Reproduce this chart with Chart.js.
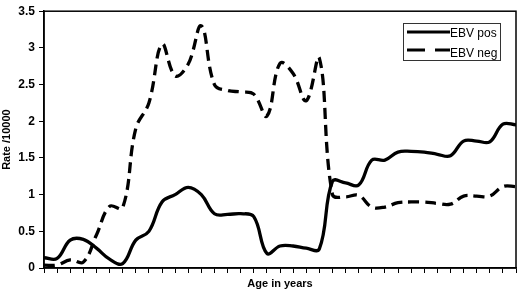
<!DOCTYPE html>
<html>
<head>
<meta charset="utf-8">
<script src="https://cdn.jsdelivr.net/npm/chart.js@4/dist/chart.umd.min.js"></script>
<style>
  html, body { margin: 0; padding: 0; background: #fff; }
  #wrap { width: 520px; height: 297px; }
</style>
</head>
<body>
<div id="wrap"><canvas id="chartEbv"></canvas></div>
<script>
// age points (one per tick mark on the x axis)
const ages = [0,1,2,3,4,5,6,7,8,9,10,11,12,13,14,15,16,17,18,19,20,21,22,23,24,25,26,27,28,29,30,31,32,33,34,35,36];

// rate per 10000
const ebvPos = [0.14,0.13,0.38,0.39,0.27,0.12,0.06,0.38,0.50,0.90,1.00,1.10,1.00,0.74,0.73,0.74,0.70,0.20,0.30,0.30,0.27,0.26,1.18,1.16,1.13,1.47,1.47,1.58,1.59,1.58,1.55,1.53,1.73,1.73,1.72,1.96,1.95];
const ebvNeg = [0.04,0.04,0.11,0.08,0.45,0.84,0.82,1.90,2.25,3.05,2.62,2.78,3.30,2.50,2.42,2.40,2.37,2.07,2.79,2.65,2.28,2.86,1.00,0.97,0.99,0.83,0.83,0.89,0.90,0.90,0.88,0.87,0.98,0.98,0.98,1.11,1.11];

const yTicks = [0, 0.5, 1, 1.5, 2, 2.5, 3, 3.5];
const yTickLabels = ['0', '0.5', '1', '1.5', '2', '2.5', '3', '3.5'];
const seriesNames = ['EBV pos', 'EBV neg'];

function toPoints(vals) {
    return vals.map(function(v, i) { return { x: ages[i], y: v }; });
}

// frame round the plot area + boxed legend
const framePlugin = {
    id: 'frame',
    afterDraw: function(chart) {
        const c = chart.ctx;
        const a = chart.chartArea;
        c.save();
        c.strokeStyle = '#000';
        c.lineWidth = 1.5;
        c.strokeRect(a.left, a.top, a.right - a.left, a.bottom - a.top);

        // legend box
        const bx = 403, by = 23, bw = 97, bh = 37;
        c.fillStyle = '#fff';
        c.fillRect(bx, by, bw, bh);
        c.lineWidth = 1;
        c.strokeStyle = '#333';
        c.strokeRect(bx + 0.5, by + 0.5, bw, bh);

        c.strokeStyle = '#000';
        c.lineWidth = 3;
        c.beginPath();
        c.moveTo(407, 32);
        c.lineTo(450, 32);
        c.stroke();

        c.setLineDash([18, 10]);
        c.beginPath();
        c.moveTo(407, 50);
        c.lineTo(450, 50);
        c.stroke();
        c.setLineDash([]);

        c.fillStyle = '#000';
        c.font = '12px "Liberation Sans", Arial, sans-serif';
        c.textBaseline = 'middle';
        c.textAlign = 'left';
        c.fillText(seriesNames[0], 450, 34);
        c.fillText(seriesNames[1], 450, 54);
        c.restore();
    }
};

new Chart(document.getElementById('chartEbv').getContext('2d'), {
    type: 'line',
    data: {
        datasets: [{
            label: seriesNames[0],
            data: toPoints(ebvPos),
            borderColor: '#000',
            borderWidth: 3.3,
            pointRadius: 0,
            tension: 0.4,
            fill: false
        }, {
            label: seriesNames[1],
            data: toPoints(ebvNeg),
            borderColor: '#000',
            borderWidth: 3.3,
            borderDash: [11, 6],
            pointRadius: 0,
            tension: 0.4,
            fill: false
        }]
    },
    options: {
        responsive: true,
        maintainAspectRatio: false,
        animation: false,
        layout: {
            padding: { left: 0, top: 7, right: 4, bottom: 0 }
        },
        plugins: {
            legend: { display: false },
            tooltip: { enabled: false }
        },
        scales: {
            x: {
                type: 'linear',
                min: 0,
                max: 36,
                afterFit: function(scale) { scale.height = 29; },
                afterBuildTicks: function(scale) {
                    scale.ticks = ages.map(function(v) { return { value: v }; });
                },
                ticks: {
                    display: false,
                    autoSkip: false
                },
                grid: {
                    display: true,
                    drawOnChartArea: false,
                    drawTicks: true,
                    tickLength: 5,
                    color: '#000'
                },
                border: { color: '#000', width: 1.5 },
                title: {
                    display: true,
                    text: 'Age in years',
                    color: '#000',
                    font: { family: '"Liberation Sans", Arial, sans-serif', size: 11, weight: 'bold' },
                    padding: { top: 0, bottom: 6 }
                }
            },
            y: {
                min: 0,
                max: 3.5,
                afterFit: function(scale) { scale.width = 44; },
                afterBuildTicks: function(scale) {
                    scale.ticks = yTicks.map(function(v) { return { value: v }; });
                },
                ticks: {
                    color: '#000',
                    padding: 4,
                    font: { family: '"Liberation Sans", Arial, sans-serif', size: 12, weight: 'bold' },
                    callback: function(value, index) { return yTickLabels[index]; }
                },
                grid: {
                    display: true,
                    drawOnChartArea: false,
                    drawTicks: true,
                    tickLength: 5,
                    color: '#000'
                },
                border: { color: '#000', width: 1.5 },
                title: {
                    display: true,
                    text: 'Rate /10000',
                    color: '#000',
                    font: { family: '"Liberation Sans", Arial, sans-serif', size: 11, weight: 'bold' },
                    padding: { top: 0, bottom: 0 }
                }
            }
        }
    },
    plugins: [framePlugin]
});
</script>
</body>
</html>
